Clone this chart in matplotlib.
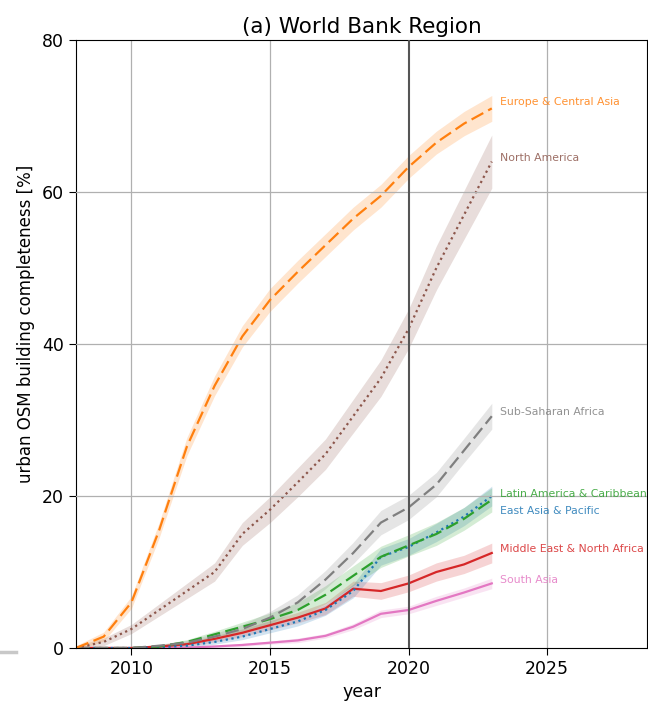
import matplotlib
matplotlib.use("Agg")
import matplotlib.pyplot as plt
from matplotlib.lines import Line2D
import numpy as np

years = list(range(2008, 2024))

regions = ["Europe & Central Asia", "North America", "Sub-Saharan Africa",
           "Latin America & Caribbean", "East Asia & Pacific",
           "Middle East & North Africa", "South Asia"]

eca = [0.0, 1.5, 6.0, 15.5, 26.5, 34.5, 41.0, 45.8, 49.5, 53.0, 56.5, 59.5, 63.3, 66.5, 69.0, 71.0]
nam = [0.0, 0.8, 2.5, 5.0, 7.5, 10.0, 15.0, 18.2, 21.8, 25.5, 30.5, 35.5, 42.0, 50.0, 57.0, 64.0]
ssa = [0.0, 0.0, 0.0, 0.3, 0.7, 1.5, 2.5, 4.0, 6.0, 9.0, 12.5, 16.5, 18.5, 21.5, 26.0, 30.5]
lac = [0.0, 0.0, 0.0, 0.2, 0.8, 1.8, 2.8, 3.8, 5.0, 7.0, 9.5, 12.0, 13.5, 15.0, 17.0, 19.5]
eap = [0.0, 0.0, 0.0, 0.1, 0.3, 0.8, 1.5, 2.5, 3.5, 5.0, 7.5, 12.0, 13.3, 15.2, 17.3, 20.0]
mna = [0.0, 0.0, 0.0, 0.2, 0.5, 1.2, 2.0, 3.0, 4.0, 5.2, 7.8, 7.5, 8.5, 10.0, 11.0, 12.5]
sas = [0.0, 0.0, 0.0, 0.0, 0.05, 0.2, 0.4, 0.7, 1.0, 1.6, 2.8, 4.5, 5.0, 6.2, 7.3, 8.5]

# uncertainty half-widths (band)
eca_err = [0.3, 0.6, 0.8, 1.0, 1.2, 1.3, 1.4, 1.5, 1.5, 1.5, 1.5, 1.5, 1.5, 1.5, 1.6, 1.7]
nam_err = [0.3, 0.5, 0.6, 0.8, 1.0, 1.2, 1.5, 1.7, 1.9, 2.0, 2.2, 2.4, 2.6, 2.9, 3.2, 3.5]
ssa_err = [0.1, 0.1, 0.1, 0.2, 0.3, 0.4, 0.6, 0.8, 1.0, 1.2, 1.4, 1.6, 1.6, 1.6, 1.6, 1.7]
lac_err = [0.1, 0.1, 0.1, 0.2, 0.3, 0.4, 0.6, 0.8, 1.0, 1.2, 1.3, 1.4, 1.4, 1.5, 1.5, 1.6]
eap_err = [0.1, 0.1, 0.1, 0.1, 0.2, 0.3, 0.4, 0.5, 0.6, 0.7, 0.9, 1.1, 1.1, 1.2, 1.2, 1.3]
mna_err = [0.1, 0.1, 0.1, 0.2, 0.3, 0.4, 0.5, 0.6, 0.7, 0.8, 1.0, 1.1, 1.1, 1.2, 1.2, 1.3]
sas_err = [0.0, 0.0, 0.0, 0.0, 0.1, 0.1, 0.2, 0.2, 0.3, 0.3, 0.4, 0.5, 0.5, 0.6, 0.6, 0.7]

label_y = [71.8, 64.5, 31.0, 20.3, 18.0, 13.0, 9.0]

series = [eca, nam, ssa, lac, eap, mna, sas]
errs = [eca_err, nam_err, ssa_err, lac_err, eap_err, mna_err, sas_err]
colors = ["#ff7f0e", "#8c564b", "#7f7f7f", "#2ca02c", "#1f77b4", "#d62728", "#e377c2"]
styles = [(0, (6, 2.5)), (0, (1, 1.6)), (0, (6, 2.5)), (0, (6, 2.5)), (0, (1, 1.6)), "-", "-"]

fig = plt.figure(figsize=(6.48, 7.05), dpi=100)
ax = fig.add_axes([76/648, 57/705, 571/648, 608/705])

for x in [2010, 2015, 2025]:
    ax.axvline(x, color="#b0b0b0", lw=0.9, zorder=0)
for y in [20, 40, 60]:
    ax.axhline(y, color="#b0b0b0", lw=0.9, zorder=3)
ax.axvline(2020, color="#555555", lw=1.5, zorder=4)

yrs = np.array(years)
order = [6, 5, 4, 3, 2, 1, 0]
for i in order:
    v = np.array(series[i]); e = np.array(errs[i])
    ax.fill_between(yrs, v - e, v + e, color=colors[i], alpha=0.2, lw=0, zorder=1)
for i in order:
    ax.plot(yrs, series[i], color=colors[i], ls=styles[i], lw=1.6, zorder=2)
    ax.text(2023.3, label_y[i], regions[i], color=colors[i], fontsize=7.8,
            va="center", ha="left", alpha=0.85, zorder=5)

ax.set_xlim(2008, 2028.6)
ax.set_ylim(0, 80)
ax.set_xticks([2010, 2015, 2020, 2025])
ax.set_yticks([0, 20, 40, 60, 80])
ax.tick_params(labelsize=12.5, length=5)
ax.set_xlabel("year", fontsize=12.5, labelpad=4)
ax.set_ylabel("urban OSM building completeness [%]", fontsize=12)
ax.yaxis.set_label_coords(-0.072, 0.533)
ax.set_title("(a) World Bank Region", fontsize=15.5, pad=5)

fig.add_artist(Line2D([0, 16/648], [1 - 652/705, 1 - 652/705], color="#c8c8c8", lw=2.5,
                      transform=fig.transFigure))

fig.savefig("out.png", dpi=100)
